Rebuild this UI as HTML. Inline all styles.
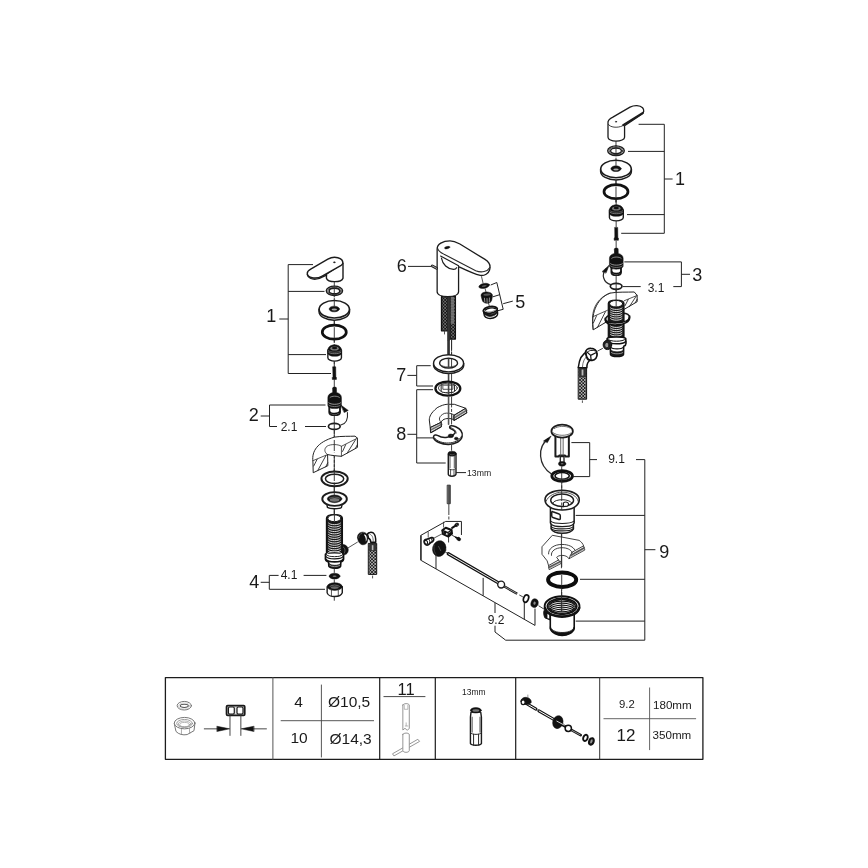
<!DOCTYPE html>
<html lang="en">
<head>
<meta charset="utf-8">
<title>Exploded parts diagram</title>
<style>
html,body{margin:0;padding:0;background:#fff;}
body{width:868px;height:868px;overflow:hidden;}
svg{display:block;will-change:transform;}
text{font-family:"Liberation Sans",sans-serif;fill:#1a1a1a;}
path,ellipse,line,rect,circle,polyline,polygon{vector-effect:non-scaling-stroke;stroke-linejoin:round;stroke-linecap:round;}
.l{fill:none;stroke:#222;stroke-width:1.2;}
.b{fill:none;stroke:#222;stroke-width:1;stroke-linecap:butt;}
.t{fill:none;stroke:#2a2a2a;stroke-width:0.8;}
.h{fill:none;stroke:#333;stroke-width:0.7;}
.w{fill:#fff;stroke:#1c1c1c;stroke-width:1.4;}
.wt{fill:#fff;stroke:#222;stroke-width:1;}
.k{fill:#111;stroke:#111;stroke-width:0.5;}
.g{fill:#888;stroke:#222;stroke-width:0.7;}
.o{fill:none;stroke:#111;stroke-width:2;}
.ax{fill:none;stroke:#2a2a2a;stroke-width:0.9;stroke-dasharray:11 1.5 3 1.5;stroke-linecap:butt;}
</style>
</head>
<body>
<svg width="868" height="868" viewBox="0 0 868 868">
<rect x="0" y="0" width="868" height="868" fill="#fff"/>
<!-- 00_defs.svg -->
<defs>
  <pattern id="br" width="3.2" height="3.2" patternUnits="userSpaceOnUse">
    <rect width="3.2" height="3.2" fill="#151515"/>
    <circle cx="0.8" cy="0.8" r="0.72" fill="#fff"/>
    <circle cx="2.4" cy="2.4" r="0.72" fill="#fff"/>
  </pattern>
  <pattern id="st" width="4" height="1.6" patternUnits="userSpaceOnUse">
    <rect width="4" height="1.6" fill="#222"/>
    <rect y="0.5" width="4" height="0.7" fill="#ccc"/>
  </pattern>
  <pattern id="br2" width="3.2" height="3.2" patternUnits="userSpaceOnUse" x="441.9" y="296">
    <rect width="3.2" height="3.2" fill="#151515"/>
    <circle cx="1.6" cy="0.8" r="0.6" fill="#eee"/>
    <circle cx="3.2" cy="2.4" r="0.6" fill="#eee"/>
    <circle cx="0" cy="2.4" r="0.6" fill="#eee"/>
  </pattern>
</defs>

<!-- 05_hoses.svg -->
<!-- braided hoses (real coords) -->
<g>
  <!-- left column hose -->
  <rect x="368.7" y="543.4" width="8" height="31" fill="url(#br)" stroke="#111" stroke-width="1"/>
  <rect x="369.2" y="543.6" width="7" height="7.6" fill="#333"/>
  <rect x="371.8" y="545.2" width="1.6" height="5" fill="#bbb"/>
  <line class="t" x1="372.6" y1="576" x2="372.6" y2="578"/>
  <!-- right column hose -->
  <rect x="578.6" y="367.2" width="8" height="32" fill="url(#br)" stroke="#111" stroke-width="1"/>
  <rect x="579.1" y="367.4" width="7" height="9.6" fill="#333"/>
  <rect x="581.6" y="369.5" width="1.8" height="6" fill="#bbb"/>
  <line class="t" x1="582.4" y1="400.8" x2="582.4" y2="402.5"/>
  <!-- center hoses -->
  <rect x="441.5" y="296.5" width="6" height="34.3" fill="url(#br2)" stroke="#111" stroke-width="1.3"/>
  <rect x="450" y="296.5" width="5.4" height="42.6" fill="url(#br2)" stroke="#111" stroke-width="1.3"/>
  <rect x="450.8" y="297" width="3.4" height="27" fill="url(#st)"/>
  <rect x="447.4" y="296.5" width="2.6" height="44" fill="#2a2a2a"/>
  <line class="t" x1="444.5" y1="331.5" x2="444.5" y2="334"/>
</g>

<!-- 10_left_top.svg -->
<g transform="translate(270,250) scale(0.142857)">
  <!-- axis -->
  <line class="ax" x1="450" y1="215" x2="450" y2="868"/>
  <!-- handle -->
  <g transform="translate(210,0) scale(0.5)">
    <path class="w" d="M370 340 L370 395 C380 425 430 443 485 443 C540 443 592 425 602 395 L602 185 Z"/>
    <path class="w" d="M102 345 C112 388 165 412 220 408 C265 404 300 388 340 366 L372 350 L360 320 Z"/>
    <path class="w" d="M102 330 C98 300 120 285 150 268 L390 128 C430 105 480 95 530 108 C575 120 602 150 600 185 C598 200 585 210 570 220 L310 365 C270 388 220 398 170 388 C130 380 105 360 102 330 Z"/>
    <ellipse class="k" cx="480" cy="172" rx="12" ry="8"/>
  </g>
  <!-- washer -->
  <ellipse class="w" cx="451" cy="286" rx="57" ry="33"/>
  <ellipse class="t" cx="451" cy="287" rx="47" ry="26"/>
  <ellipse class="w" cx="451" cy="287" rx="37" ry="19"/>
  <line class="ax" x1="450" y1="255" x2="450" y2="330"/>
  <!-- cap disc -->
  <path class="w" d="M343 415 L343 430 C343 465 392 492 450 492 C508 492 557 465 557 430 L557 415 Z"/>
  <ellipse class="w" cx="450" cy="415" rx="106" ry="61" style="stroke-width:1.6"/>
  <ellipse class="k" cx="450" cy="413" rx="36" ry="20"/>
  <ellipse cx="450" cy="417" rx="19" ry="7" fill="#aaa"/>
  <line class="ax" x1="450" y1="350" x2="450" y2="395"/>
  <line class="ax" x1="450" y1="492" x2="450" y2="530"/>
  <!-- o-ring -->
  <ellipse cx="450" cy="575" rx="84" ry="49" fill="#fff" stroke="#111" stroke-width="2.7"/>
  <line class="ax" x1="450" y1="540" x2="450" y2="650"/>
  <!-- nut -->
  <path class="w" d="M405 700 L405 755 C405 768 428 778 452 778 C478 778 500 768 500 755 L500 700 Z"/>
  <path class="k" d="M405 700 C405 680 425 664 452 664 C480 664 500 680 500 700 L500 722 C500 736 478 744 452 744 C428 744 405 736 405 722 Z"/>
  <ellipse cx="452" cy="690" rx="30" ry="14" fill="#777"/>
  <ellipse cx="452" cy="686" rx="18" ry="9" fill="#111"/>
  <path d="M410 716 C420 730 485 730 496 716" fill="none" stroke="#bbb" stroke-width="0.6"/>
  <path d="M408 704 C420 720 485 720 498 704" fill="none" stroke="#999" stroke-width="0.5"/>
  <line class="ax" x1="450" y1="778" x2="450" y2="815"/>
</g>
<!-- bracket 1 -->
<path class="b" d="M313 264.6 H288.2 V373.5 H331 M288.2 291.4 H324.5 M288.2 354.6 H326 M279.3 319 H288.2"/>
<text x="266.2" y="322.0" font-size="18">1</text>

<!-- 11_left_mid.svg -->
<g transform="translate(270,360) scale(0.142857)">
  <line class="ax" x1="450" y1="135" x2="450" y2="868"/>
  <!-- screw -->
  <path class="k" d="M440 48 L460 48 L461 118 L465 122 L465 136 L436 136 L436 122 L440 118 Z"/>
  <!-- cartridge -->
  <path class="w" style="stroke-width:1.9" d="M415 320 L415 365 C415 378 432 386 452 386 C472 386 490 378 490 365 L490 320 Z"/>
  <path d="M418 362 C425 378 480 378 488 362" fill="none" stroke="#111" stroke-width="1.6"/>
  <path class="k" d="M438 195 C438 188 465 188 465 195 L466 228 C485 232 500 245 500 262 L500 318 C500 332 478 340 452 340 C428 340 405 332 405 318 L405 262 C405 245 420 232 438 228 Z"/>
  <path d="M420 262 C430 250 475 250 486 262" fill="none" stroke="#bbb" stroke-width="0.7"/>
  <path d="M412 300 C425 314 480 314 494 300" fill="none" stroke="#ccc" stroke-width="0.7"/>
  <path d="M412 316 C425 330 480 330 494 316" fill="none" stroke="#aaa" stroke-width="0.6"/>
  <!-- lever pin + arrow -->
  <path class="k" d="M494 314 L548 353 L521 367 Z"/>
  <path class="t" style="stroke-width:1.1" d="M542 368 C548 420 525 448 496 455"/>
  <!-- o-ring 2.1 -->
  <ellipse class="w" cx="450" cy="465" rx="41" ry="21" style="stroke-width:1.7"/>
  <line class="ax" x1="450" y1="440" x2="450" y2="560"/>
</g>
<path class="b" d="M325.5 405 H269.5 V426.5 H277 M305 426.5 H326 M260.7 416 H269.5"/>
<text x="248.8" y="421.0" font-size="18">2</text>
<text x="280.7" y="431.0" font-size="12">2.1</text>

<!-- 12_left_sink.svg -->
<g transform="translate(270,360) scale(0.142857)">
  <!-- sink section -->
  <path class="wt" d="M300 705 C292 640 330 575 450 540 C500 532 560 535 595 533 L612 547 L612 612 L500 674 C470 672 430 668 403 662 L405 740 L305 788 Z"/>
  <path class="t" d="M403 662 C380 648 376 620 400 603 C425 588 475 588 500 604 L612 547"/>
  <path class="t" d="M300 705 L403 662 M500 604 L500 674"/>
  <path class="t" style="stroke-width:0.9" d="M306 742 L330 695 M335 772 L392 668 M390 748 L404 720"/>
  <path class="t" style="stroke-width:0.9" d="M508 640 L530 592 M540 652 L600 556 M598 618 L612 592"/>
  <line class="ax" x1="450" y1="560" x2="450" y2="650"/>
  <line class="ax" x1="450" y1="672" x2="450" y2="868"/>
</g>

<!-- 13_left_low.svg -->
<g transform="translate(270,470) scale(0.142857)">
  <line class="ax" x1="450" y1="0" x2="450" y2="330"/>
  <!-- flat ring -->
  <ellipse class="w" cx="452" cy="62" rx="92" ry="52" style="stroke-width:2"/>
  <ellipse class="w" cx="452" cy="62" rx="64" ry="33" style="stroke-width:1.5"/>
  <line class="ax" x1="450" y1="0" x2="450" y2="130"/>
  <!-- flange nut -->
  <path class="w" d="M398 240 L402 262 C420 274 485 274 500 262 L505 240 Z"/>
  <ellipse class="w" cx="452" cy="203" rx="86" ry="48" style="stroke-width:1.9"/>
  <ellipse class="k" cx="452" cy="202" rx="51" ry="27"/>
  <ellipse cx="452" cy="209" rx="34" ry="13" fill="#777"/>
  <path d="M415 198 C430 186 475 186 490 198" fill="none" stroke="#999" stroke-width="0.6"/>
  <line class="ax" x1="450" y1="130" x2="450" y2="180"/>
  <line class="ax" x1="450" y1="272" x2="450" y2="320"/>
  <!-- threaded tube -->
  <path class="k" d="M505 520 C530 520 550 540 548 562 C546 586 528 598 508 594 Z"/>
  <path d="M514 540 C527 548 530 570 518 584" fill="none" stroke="#777" stroke-width="0.7"/>
  <path d="M395 338 L395 582 L507 582 L507 338 C507 322 482 312 451 312 C420 312 395 322 395 338 Z" fill="#1a1a1a" stroke="#111" stroke-width="1.2"/>
  <g fill="none" stroke="#fff" stroke-width="0.85">
    <path d="M410 372 C424 387 478 387 493 372"/>
    <path d="M410 388 C424 403 478 403 493 388"/>
    <path d="M410 404 C424 419 478 419 493 404"/>
    <path d="M410 420 C424 435 478 435 493 420"/>
    <path d="M410 436 C424 451 478 451 493 436"/>
    <path d="M410 452 C424 467 478 467 493 452"/>
    <path d="M410 468 C424 483 478 483 493 468"/>
    <path d="M410 484 C424 499 478 499 493 484"/>
    <path d="M410 500 C424 515 478 515 493 500"/>
    <path d="M410 516 C424 531 478 531 493 516"/>
    <path d="M410 532 C424 547 478 547 493 532"/>
    <path d="M410 548 C424 563 478 563 493 548"/>
    <path d="M410 564 C424 579 478 579 493 564"/>
  </g>
  <ellipse cx="451" cy="338" rx="46" ry="24" fill="#fff" stroke="#111" stroke-width="1"/>
  <path d="M388 590 L388 622 C388 634 400 642 410 646 L412 674 C420 692 485 692 494 674 L496 646 C505 642 515 634 515 622 L515 590 C505 575 398 575 388 590 Z" fill="#fff" stroke="#111" stroke-width="1.6"/>
  <path d="M392 592 C410 612 495 612 511 592" fill="none" stroke="#111" stroke-width="1"/>
  <path d="M390 604 C405 628 500 628 513 604" fill="none" stroke="#111" stroke-width="1.2"/>
  <path d="M390 624 C405 650 500 650 513 624" fill="none" stroke="#111" stroke-width="1.8"/>
  <path d="M412 654 C425 672 482 672 494 654 L494 672 C482 690 425 690 413 672 Z" fill="#1a1a1a" stroke="#111" stroke-width="0.8"/>
  <path d="M418 668 C430 680 476 680 488 668" fill="none" stroke="#ddd" stroke-width="0.6"/>
  <ellipse cx="451" cy="586" rx="50" ry="14" fill="none" stroke="#fff" stroke-width="0.7"/>
  <line x1="451" y1="290" x2="451" y2="356" stroke="#2a2a2a" stroke-width="0.9"/>
  <line class="ax" x1="450" y1="690" x2="450" y2="720"/>
  <!-- connector line -->
  <line class="t" x1="545" y1="546" x2="612" y2="505"/>
  <!-- hose elbow -->
  <g transform="translate(490,350) scale(0.5)">
    <path d="M385 195 C400 172 440 165 470 185 C495 205 502 250 500 310 L430 312 C430 285 425 265 400 255 Z" fill="#fff" stroke="#111" stroke-width="1.5"/>
    <path d="M420 200 C450 210 465 240 465 300" fill="none" stroke="#333" stroke-width="0.7"/>
    <path class="k" d="M245 250 C240 205 270 172 310 170 C340 168 362 180 378 200 C395 230 395 290 375 320 C360 345 325 355 295 340 C265 325 250 290 245 250 Z"/>
    <path d="M335 205 C350 195 372 215 375 245 C378 270 370 295 360 300 C365 270 360 235 335 205 Z" fill="#fff"/>
    <path d="M262 250 C262 215 280 192 305 188" fill="none" stroke="#777" stroke-width="0.6"/>
  </g>
  <!-- ring 4.1 -->
  <ellipse class="k" cx="452" cy="743" rx="38" ry="20"/>
  <ellipse cx="452" cy="744" rx="14" ry="5" fill="#777"/>
  <line class="ax" x1="450" y1="765" x2="450" y2="790"/>
  <!-- nut 4 -->
  <path class="w" d="M400 818 L400 860 C405 876 430 886 452 886 C475 886 500 876 506 860 L506 818 Z" style="stroke-width:1.4"/>
  <path class="t" d="M430 842 L430 882 M478 842 L478 882"/>
  <ellipse class="k" cx="453" cy="816" rx="53" ry="27"/>
  <ellipse cx="453" cy="823" rx="28" ry="10" fill="#666"/>
  <path d="M420 814 C435 802 470 802 486 814" fill="none" stroke="#aaa" stroke-width="0.6"/>
  <line class="ax" x1="450" y1="888" x2="450" y2="915"/>
</g>
<path class="b" d="M278.6 575.4 H269.3 V589.3 H325 M303.6 575.4 H326.4 M260.7 582.3 H269.3"/>
<text x="249.2" y="587.6" font-size="18">4</text>
<text x="280.7" y="578.9" font-size="12">4.1</text>

<!-- 20_faucet.svg -->
<g transform="translate(390,230) scale(0.142857)">
  <!-- thin tube -->
  <path d="M410 470 L410 868" fill="none" stroke="#333" stroke-width="2.2" style="stroke-linecap:butt"/>
  <line class="ax" x1="431" y1="762" x2="431" y2="868"/>
  <!-- faucet body -->
  <path class="w" style="stroke-width:1.3" d="M330 135 C328 98 370 76 420 76 C452 76 470 88 492 100 L665 206 C695 224 706 250 697 280 C690 304 662 322 632 318 C600 310 520 275 480 256 L480 432 C480 452 450 466 405 466 C360 466 330 452 330 432 Z"/>
  <path class="t" style="stroke-width:1.1" d="M333 128 C338 150 360 160 382 172 L600 285 C640 302 682 292 699 262"/>
  <path d="M360 196 C368 242 402 272 445 276 C456 276 463 271 466 264" fill="none" stroke="#1c1c1c" stroke-width="1.2"/>
  <path d="M354 182 L480 250" fill="none" stroke="#1c1c1c" stroke-width="1.1"/>
  
  <ellipse class="k" cx="400" cy="123" rx="19" ry="8" transform="rotate(-12 400 123)"/>
  <!-- pin 6 -->
  <path d="M296 252 L326 268" fill="none" stroke="#222" stroke-width="2.8"/>
  <path d="M297 252 L326 268" fill="none" stroke="#bbb" stroke-width="0.9"/>
  <!-- aerator parts -->
  <g transform="translate(630,280) scale(0.5)">
    <line class="t" x1="22" y1="95" x2="42" y2="180"/>
    <line class="t" x1="72" y1="262" x2="84" y2="308"/>
    <line class="t" x1="120" y1="468" x2="130" y2="505"/>
    <ellipse class="k" cx="58" cy="222" rx="76" ry="34" transform="rotate(-12 58 222)"/>
    <ellipse cx="60" cy="224" rx="36" ry="9" fill="#666" transform="rotate(-12 60 224)"/>
    <path class="k" d="M15 360 C10 325 50 305 100 308 C150 312 180 335 175 365 L165 420 C160 450 130 468 95 466 C60 464 35 448 30 420 Z"/>
    <ellipse cx="98" cy="345" rx="52" ry="15" fill="#555" transform="rotate(-6 98 345)"/>
    <path d="M62 395 L68 448 M98 400 L100 456 M132 392 L130 446" stroke="#ccc" stroke-width="0.7" fill="none"/>
    <path d="M48 575 L62 640 C75 672 130 688 185 672 C225 660 248 635 246 608 L242 555 Z" fill="#fff" stroke="#111" stroke-width="1.5"/>
    <path d="M48 572 C60 610 110 628 165 618 C215 608 245 580 242 552 L244 585 C240 615 205 640 160 648 C105 655 62 635 52 600 Z" fill="#111" stroke="#111" stroke-width="0.8"/>
    <ellipse cx="145" cy="558" rx="98" ry="46" fill="#fff" stroke="#111" stroke-width="1.8" transform="rotate(-9 145 558)"/>
    <path d="M75 560 C95 535 175 520 215 540" fill="none" stroke="#111" stroke-width="1.4"/>
    <path d="M80 578 C110 598 180 590 212 560" fill="none" stroke="#555" stroke-width="0.7"/>
  </g>
</g>
<!-- bracket 5 -->
<path class="b" d="M490.7 285 L496.8 282.5 L503.2 309.3 L497.9 310.7 M492.9 296.8 L500 294.6 M503.2 303.7 L512.8 301.1"/>
<text x="515.2" y="307.9" font-size="18">5</text>
<!-- label 6 -->
<path class="b" d="M408 266.4 H431"/>
<text x="396.8" y="272.0" font-size="18">6</text>

<!-- 21_center_mid.svg -->
<g transform="translate(390,340) scale(0.142857)">
  <!-- tube continuing -->
  <path d="M410 0 L410 110" fill="none" stroke="#333" stroke-width="2.2" style="stroke-linecap:butt"/>
  <line class="ax" x1="431" y1="0" x2="431" y2="112"/>
  <!-- ring 7a -->
  <path class="w" style="stroke-width:1.4" d="M305 165 L305 180 C310 212 360 235 410 235 C462 235 512 212 516 180 L516 165 Z"/>
  <ellipse class="w" style="stroke-width:1.4" cx="410" cy="163" rx="105" ry="60"/>
  <ellipse class="w" style="stroke-width:1.4" cx="410" cy="162" rx="63" ry="34"/>
  <path d="M350 170 C365 195 455 195 470 170" fill="none" stroke="#444" stroke-width="0.7"/>
  <path d="M410 130 L410 196" fill="none" stroke="#444" stroke-width="1.6" style="stroke-linecap:butt"/>
  <line class="ax" x1="431" y1="130" x2="431" y2="196"/>
  <path d="M410 236 L410 295" fill="none" stroke="#444" stroke-width="1.6" style="stroke-linecap:butt"/>
  <line class="ax" x1="431" y1="236" x2="431" y2="295"/>
  <!-- ring 7b -->
  <ellipse cx="405" cy="340" rx="87" ry="49" fill="#fff" stroke="#111" stroke-width="2.3"/>
  <ellipse class="t" cx="405" cy="336" rx="66" ry="34" style="stroke-width:0.9"/>
  <path class="wt" style="stroke-width:1" d="M358 318 L358 360 C370 372 440 372 452 360 L452 318 Z"/>
  <path class="t" d="M370 322 L370 345 L440 345 L440 322"/>
  <path d="M410 300 L410 384" fill="none" stroke="#444" stroke-width="1.6" style="stroke-linecap:butt"/>
  <line class="ax" x1="431" y1="300" x2="431" y2="384"/>
  <!-- sink piece (center) -->
  <g transform="translate(210,385) scale(0.5)">
    <path class="wt" d="M152 525 L130 350 C132 300 150 255 240 178 C290 150 340 132 380 130 L480 130 L640 186 L655 250 L480 355 L465 345 C440 325 360 320 320 350 C305 362 298 372 295 382 L300 440 Z"/>
    <path class="t" style="stroke-width:0.9" d="M295 382 C255 345 262 295 340 258 C380 248 440 255 480 282 L640 186 M480 282 L480 355 M150 452 L295 382 M465 345 L465 290"/>
    <path d="M488 312 L646 218" fill="none" stroke="#666" stroke-width="2.6"/>
    <path d="M486 300 L642 205 M490 330 L650 234" fill="none" stroke="#fff" stroke-width="0.5"/>
    <path d="M156 486 L296 412" fill="none" stroke="#666" stroke-width="2.6"/>
    <path d="M154 474 L294 400 M158 502 L298 428" fill="none" stroke="#fff" stroke-width="0.5"/>
    <path d="M480 282 L640 186 L655 250 L480 355 Z M150 452 L295 382 L300 440 L152 525 Z" fill="none" stroke="#222" stroke-width="1"/>
    <line x1="400" y1="20" x2="400" y2="410" stroke="#555" stroke-width="1.6"/>
    <line class="ax" x1="442" y1="20" x2="442" y2="430"/>
    <!-- clip -->
    <path class="w" style="stroke-width:1.5" d="M190 582 C195 560 225 552 245 565 C290 592 340 600 380 592 C420 585 470 560 490 530 C500 510 470 490 440 478 C415 468 405 450 425 432 C440 425 470 432 500 445 C560 470 600 520 590 580 C580 640 500 690 400 692 C300 694 210 650 190 600 Z"/>
    <path class="t" style="stroke-width:1" d="M200 600 C240 650 320 675 400 672 C480 670 560 630 580 580"/>
    <path class="t" style="stroke-width:1" d="M425 455 C470 470 510 500 505 535"/>
    <ellipse class="k" cx="432" cy="572" rx="38" ry="26"/>
    <ellipse cx="436" cy="568" rx="10" ry="5" fill="#555"/>
    <ellipse class="k" cx="508" cy="610" rx="26" ry="20"/>
    
    <line class="ax" x1="442" y1="700" x2="442" y2="780"/>
  </g>
</g>
<path class="b" d="M430.7 365.7 H416.7 V386 H433 M407.4 375.4 H416.7"/>
<text x="396.2" y="381.0" font-size="18">7</text>
<path class="b" d="M433 389.7 H416.7 V463 H445.7 M416.7 437.9 H433 M407.4 434.3 H416.7"/>
<text x="396.2" y="440.2" font-size="18">8</text>

<!-- 22_center_low.svg -->
<g transform="translate(390,440) scale(0.142857)">
  
  <!-- 13mm nut -->
  <path class="w" style="stroke-width:1.4" d="M408 100 L408 240 C412 258 455 258 462 240 L462 100 Z"/>
  <path class="t" d="M410 200 C420 212 450 212 460 200 M424 208 L424 252 M448 208 L448 252"/>
  <path class="t" d="M420 110 L420 195 M450 110 L450 195"/>
  <ellipse class="k" cx="435" cy="96" rx="29" ry="17"/>
  <path d="M420 100 C428 106 442 106 450 100" fill="none" stroke="#888" stroke-width="0.5"/>
  <!-- rod -->
  <rect x="403" y="316" width="19" height="130" fill="#444" stroke="#222" stroke-width="0.8"/>
  <line x1="412.5" y1="320" x2="412.5" y2="442" stroke="#999" stroke-width="0.4"/>
  <line class="ax" x1="412" y1="448" x2="412" y2="565"/>
  <!-- box -->
  <path class="b" d="M500 665 L500 570 L390 570 L215 668 L215 842"/>
  
  <g transform="translate(175,525) scale(0.5)">
    <line class="t" x1="400" y1="100" x2="400" y2="170"/>
    <line class="t" x1="185" y1="240" x2="185" y2="310"/>
    <line class="ax" x1="470" y1="300" x2="470" y2="385"/>
    <!-- bolt top -->
    <path d="M520 180 L580 142" fill="none" stroke="#111" stroke-width="2"/>
    <ellipse class="k" cx="585" cy="137" rx="28" ry="24" transform="rotate(-30 585 137)"/>
    <path d="M570 120 L600 150" stroke="#888" stroke-width="0.6" fill="none"/>
    <!-- cube nut -->
    <path d="M382 215 L430 178 L512 210 L518 262 L468 302 L392 268 Z" fill="#fff" stroke="#111" stroke-width="2"/>
    <path d="M382 215 L462 246 L512 210 M462 246 L468 302" fill="none" stroke="#111" stroke-width="1.3"/>
    <ellipse class="k" cx="420" cy="246" rx="18" ry="22"/>
    <path class="k" d="M470 258 L505 236 L510 262 L476 288 Z"/>
    <!-- bolt 2 -->
    <line class="ax" x1="520" y1="285" x2="562" y2="306"/>
    <path d="M570 312 L600 328" fill="none" stroke="#111" stroke-width="1.8"/>
    <ellipse class="k" cx="612" cy="336" rx="28" ry="24" transform="rotate(30 612 336)"/>
    <!-- small cylinder -->
    <path d="M128 380 C122 355 140 338 165 340 L232 316 C255 312 268 335 258 355 C252 370 240 378 225 384 L185 418 C160 432 134 410 128 380 Z" fill="#fff" stroke="#111" stroke-width="1.7"/>
    <ellipse cx="155" cy="382" rx="20" ry="28" fill="#fff" stroke="#111" stroke-width="1.1" transform="rotate(-20 155 382)"/>
    <path d="M195 340 C210 360 212 385 200 405 M225 325 C240 345 242 365 235 380" fill="none" stroke="#111" stroke-width="1"/>
    <line class="t" x1="272" y1="320" x2="375" y2="266"/>
    <!-- gear -->
    <ellipse class="k" cx="340" cy="470" rx="94" ry="112" transform="rotate(14 340 470)"/>
    <path d="M330 440 L360 500" fill="none" stroke="#777" stroke-width="0.6"/>
    <path d="M268 420 C262 450 264 500 285 540" fill="none" stroke="#555" stroke-width="0.6"/>
    <line class="t" x1="420" y1="515" x2="447" y2="530"/>
  </g>
</g>
<path class="b" d="M456 472.6 H466"/>
<text x="467" y="475.9" font-size="8.7">13mm</text>

<!-- 30_right_top.svg -->
<g transform="translate(570,90) scale(0.142857)">
  <line class="ax" x1="322" y1="355" x2="322" y2="800"/>
  <!-- handle -->
  <path class="w" style="stroke-width:1.3" d="M266 232 C262 212 280 200 300 190 L420 120 C450 104 490 106 508 124 C522 140 518 160 500 172 L382 250 L382 330 C382 346 355 358 322 358 C292 358 266 346 266 330 Z"/>
  <path class="t" style="stroke-width:0.9" d="M268 240 C280 262 330 268 365 252"/>
  <path d="M372 246 L510 160" fill="none" stroke="#1c1c1c" stroke-width="2"/>
  <ellipse class="k" cx="322" cy="222" rx="4.5" ry="3.5"/>
  <!-- washer -->
  <ellipse class="w" cx="322" cy="425" rx="58" ry="34"/>
  <ellipse class="t" cx="322" cy="426" rx="48" ry="27"/>
  <ellipse class="w" cx="322" cy="426" rx="38" ry="20"/>
  <line class="ax" x1="322" y1="385" x2="322" y2="460"/>
  <!-- disc -->
  <path class="w" d="M214 553 L214 568 C214 603 264 630 322 630 C380 630 430 603 430 568 L430 553 Z"/>
  <ellipse class="w" cx="322" cy="553" rx="107" ry="61" style="stroke-width:1.6"/>
  <ellipse class="k" cx="322" cy="551" rx="36" ry="20"/>
  <ellipse cx="322" cy="556" rx="19" ry="7" fill="#aaa"/>
  <line class="ax" x1="322" y1="488" x2="322" y2="530"/>
  <line class="ax" x1="322" y1="632" x2="322" y2="665"/>
  <!-- o-ring -->
  <ellipse cx="322" cy="712" rx="84" ry="49" fill="#fff" stroke="#111" stroke-width="2.7"/>
  <line class="ax" x1="322" y1="675" x2="322" y2="790"/>
</g>
<g transform="translate(590,200) scale(0.142857)">
  <line class="ax" x1="183" y1="0" x2="183" y2="40"/>
  <line class="ax" x1="183" y1="145" x2="183" y2="190"/>
  <line class="ax" x1="183" y1="285" x2="183" y2="340"/>
  <line class="ax" x1="183" y1="525" x2="183" y2="720"/>
  <!-- nut -->
  <path class="w" d="M136 70 L136 122 C136 136 158 146 184 146 C210 146 233 136 233 122 L233 70 Z"/>
  <path class="k" d="M136 70 C136 50 156 34 184 34 C212 34 233 50 233 70 L233 92 C233 106 210 114 184 114 C158 114 136 106 136 92 Z"/>
  <ellipse cx="184" cy="60" rx="30" ry="14" fill="#777"/>
  <ellipse cx="184" cy="56" rx="18" ry="9" fill="#111"/>
  <path d="M141 86 C152 100 216 100 228 86" fill="none" stroke="#bbb" stroke-width="0.6"/>
  <path d="M139 74 C152 90 216 90 230 74" fill="none" stroke="#999" stroke-width="0.5"/>
  <!-- screw -->
  <path class="k" d="M174 192 L194 192 L195 262 L199 266 L199 282 L169 282 L169 266 L173 262 Z"/>
  <!-- cartridge -->
  <path class="w" style="stroke-width:1.9" d="M150 465 L150 505 C150 518 166 526 184 526 C202 526 217 518 217 505 L217 465 Z"/>
  <path d="M153 502 C160 518 208 518 215 502" fill="none" stroke="#111" stroke-width="1.6"/>
  <path class="k" d="M170 342 C170 335 197 335 197 342 L198 374 C217 378 232 391 232 408 L232 462 C232 476 210 484 184 484 C160 484 136 476 136 462 L136 408 C136 391 152 378 170 374 Z"/>
  <path d="M152 408 C162 396 207 396 218 408" fill="none" stroke="#bbb" stroke-width="0.7"/>
  <path d="M144 446 C157 460 212 460 226 446" fill="none" stroke="#ccc" stroke-width="0.7"/>
  <path d="M144 462 C157 476 212 476 226 462" fill="none" stroke="#aaa" stroke-width="0.6"/>
  <!-- arrow -->
  <path class="t" style="stroke-width:1.2" d="M146 592 C92 578 78 520 112 482"/>
  <path class="k" d="M86 500 L134 456 L113 510 Z"/>
  <!-- o-ring 3.1 -->
  <ellipse class="w" cx="183" cy="604" rx="41" ry="21" style="stroke-width:1.7"/>
  <line class="ax" x1="183" y1="580" x2="183" y2="700"/>
</g>
<!-- bracket 1 right -->
<path class="b" d="M638.6 124.3 H664.3 V233.3 H621.2 M628 151.4 H664.3 M627 214.6 H664.3 M664.3 179 H672.6"/>
<text x="675.0" y="185.3" font-size="18">1</text>
<!-- bracket 3 -->
<path class="b" d="M624.3 261.9 H681.4 V286.6 H673.3 M622.9 286.6 H640.7 M681.4 274.3 H690"/>
<text x="692.2" y="280.7" font-size="18">3</text>
<text x="647.7" y="291.7" font-size="12">3.1</text>

<!-- 31_right_low.svg -->
<g transform="translate(560,280) scale(0.142857)">
  <!-- sink piece right -->
  <path class="wt" style="stroke-width:1" d="M232 346 C215 250 250 130 350 92 C400 82 470 86 520 84 L540 108 L540 152 L450 205 L330 290 Z"/>
  <path class="t" d="M232 346 L228 258 L332 212 M450 145 L540 108 M228 258 C230 190 270 120 350 92"/>
  <path class="t" style="stroke-width:0.9" d="M234 300 L256 250 M262 332 L318 222 M316 300 L330 270"/>
  <path class="t" style="stroke-width:0.9" d="M455 180 L478 136 M486 186 L534 112 M526 160 L540 135"/>
  <!-- flange ring behind tube bottom -->
  <path class="w" style="stroke-width:1.5" d="M318 282 C318 258 340 245 365 240 L440 232 C470 232 488 246 486 264 C484 290 445 308 400 310 C355 312 318 300 318 282 Z"/>
  <!-- tube -->
  <path d="M338 165 L338 402 L448 402 L448 165 C448 150 424 140 393 140 C362 140 338 150 338 165 Z" fill="#1a1a1a" stroke="#111" stroke-width="1.2"/>
  <g fill="none" stroke="#fff" stroke-width="0.85">
    <path d="M354 196 C368 210 420 210 434 196"/>
    <path d="M354 211 C368 225 420 225 434 211"/>
    <path d="M354 226 C368 240 420 240 434 226"/>
    <path d="M354 241 C368 255 420 255 434 241"/>
    <path d="M354 256 C368 270 420 270 434 256"/>
    <path d="M354 271 C368 285 420 285 434 271"/>
    <path d="M354 322 C368 336 420 336 434 322"/>
    <path d="M354 337 C368 351 420 351 434 337"/>
    <path d="M354 352 C368 366 420 366 434 352"/>
    <path d="M354 367 C368 381 420 381 434 367"/>
    <path d="M354 382 C368 396 420 396 434 382"/>
  </g>
  <ellipse cx="393" cy="166" rx="46" ry="23" fill="#fff" stroke="#111" stroke-width="1"/>
  <line x1="393" y1="60" x2="393" y2="186" stroke="#2a2a2a" stroke-width="0.9"/>
  <!-- flange front -->
  <path d="M316 278 C318 306 358 316 400 314 C450 312 488 292 488 262 L488 252 C486 280 450 298 400 300 C358 302 320 294 316 268 Z" fill="#fff" stroke="#111" stroke-width="1.5"/>
  <!-- lower body -->
  <path d="M330 410 L330 442 C335 454 345 460 352 464 L354 522 C362 540 436 540 444 522 L446 464 C455 460 462 452 462 442 L460 410 C450 396 340 396 330 410 Z" fill="#fff" stroke="#111" stroke-width="1.6"/>
  <path d="M333 414 C350 434 440 434 458 414" fill="none" stroke="#111" stroke-width="1"/>
  <path d="M333 430 C350 452 440 452 460 430" fill="none" stroke="#111" stroke-width="1.4"/>
  <path d="M354 470 C368 486 430 486 444 470" fill="none" stroke="#111" stroke-width="1.2"/>
  <path d="M355 490 C368 508 430 508 445 490 L445 520 C430 538 368 538 355 520 Z" fill="#1a1a1a" stroke="#111" stroke-width="0.8"/>
  <path d="M360 508 C372 520 426 520 440 508" fill="none" stroke="#ddd" stroke-width="0.6"/>
  <!-- side outlet -->
  <ellipse cx="332" cy="454" rx="30" ry="33" fill="#222" stroke="#111" stroke-width="1"/>
  <ellipse cx="328" cy="456" rx="15" ry="19" fill="#999" stroke="#111" stroke-width="0.8"/>
  <line class="ax" x1="300" y1="478" x2="262" y2="498"/>
  <!-- hose elbow -->
  <g transform="translate(42,420) scale(0.5)">
    <path d="M300 165 C230 190 185 270 172 385 L292 388 C290 330 310 295 350 275 Z" fill="#fff" stroke="#111" stroke-width="1.5"/>
    <path d="M310 215 C260 245 235 300 230 380" fill="none" stroke="#333" stroke-width="0.7"/>
    <path d="M272 175 C275 140 310 115 350 118 C395 120 432 150 435 195 C438 240 410 280 365 285 C330 288 300 270 290 240 Z" fill="#fff" stroke="#111" stroke-width="1.8"/>
    <path d="M290 165 L345 215 L425 175 M345 215 L352 282" fill="none" stroke="#111" stroke-width="1.2"/>
    <path d="M280 200 C300 150 350 135 400 150" fill="none" stroke="#111" stroke-width="1"/>
  </g>
</g>

<!-- 40_drain_top.svg -->
<g transform="translate(530,410) scale(0.142857)">
  <line class="ax" x1="222" y1="395" x2="222" y2="868"/>
  <!-- plug stem -->
  <path class="w" style="stroke-width:2" d="M178 180 L178 326 L200 326 L206 318 L244 318 L250 326 L272 326 L272 180 Z"/>
  <path class="t" style="stroke-width:0.9;stroke:#555" d="M215 190 L215 316 M232 190 L232 316"/>
  <path class="w" style="stroke-width:1.3" d="M212 326 L212 368 L238 368 L238 326 Z"/>
  <ellipse class="k" cx="225" cy="377" rx="26" ry="17"/>
  <ellipse cx="225" cy="376" rx="10" ry="4" fill="#888"/>
  <!-- plug cap -->
  <ellipse class="w" style="stroke-width:1.8" cx="225" cy="148" rx="75" ry="46"/>
  <path class="h" d="M170 130 C190 112 250 108 280 126"/>
  <path class="h" d="M165 160 C185 182 260 184 285 162"/>
  <!-- arrow -->
  <path class="t" style="stroke-width:1.3" d="M148 446 C58 385 48 262 128 200"/>
  <path class="k" d="M96 216 L148 182 L122 228 Z"/>
  <!-- seal ring -->
  <ellipse cx="225" cy="462" rx="72" ry="38" fill="#fff" stroke="#111" stroke-width="2.8"/>
  <ellipse cx="225" cy="461" rx="50" ry="24" fill="#fff" stroke="#111" stroke-width="1.6"/>
  <path d="M165 470 C185 492 265 492 285 470" fill="none" stroke="#555" stroke-width="0.7"/>
  <line class="ax" x1="222" y1="440" x2="222" y2="560"/>
  <!-- drain body -->
  <path class="w" style="stroke-width:1.5" d="M143 680 L143 790 L148 800 L148 832 C158 852 190 862 225 862 C262 862 294 852 304 832 L304 800 L309 790 L309 680 Z"/>
  <path class="w" style="stroke-width:1.6" d="M105 628 C105 590 158 562 225 562 C292 562 345 590 345 628 C345 650 330 668 312 680 C290 694 255 700 225 700 C195 700 160 694 140 680 C120 668 105 650 105 628 Z"/>
  <ellipse class="w" style="stroke-width:1.4" cx="225" cy="632" rx="80" ry="44"/>
  <path class="t" style="stroke-width:1" d="M160 650 C175 620 275 620 292 650"/>
  <path class="t" d="M112 640 C125 600 180 575 225 575 C280 575 330 600 338 640"/>
  <path class="w" style="stroke-width:1.2" d="M234 650 L234 676 L262 672 C270 668 272 656 266 650 C258 644 242 644 234 650 Z"/>
  <path class="w" style="stroke-width:1.5" d="M152 716 C152 712 156 710 160 712 L204 728 C210 730 212 734 212 740 L212 760 C212 766 208 768 202 766 L160 752 C154 750 152 746 152 740 Z"/>
  <path d="M144 778 C170 800 280 800 308 778 M148 800 C170 822 280 822 304 800 M148 816 C170 838 280 838 304 816 M149 830 C170 852 280 852 303 830" fill="none" stroke="#1c1c1c" stroke-width="1.2"/>
  <line class="ax" x1="222" y1="560" x2="222" y2="700"/>
</g>
<path class="b" d="M571.4 442.6 H589.7 V476.6 H572.9 M589.7 459.6 H597"/>
<text x="608.2" y="462.7" font-size="12">9.1</text>
<path class="b" d="M636 459.6 H644.8 V640.2 H505.7 L495 632 V625.7 M495 613 V602.9 M575.7 515.4 H644.8 M580 579.3 H644.8 M575.7 621.1 H644.8 M644.8 549.7 H655.4"/>
<text x="659.2" y="557.7" font-size="18">9</text>
<text x="487.7" y="623.8" font-size="12">9.2</text>

<!-- 41_drain_low.svg -->
<g transform="translate(530,520) scale(0.142857)">
  <line class="ax" x1="222" y1="92" x2="222" y2="330" style="stroke-dasharray:none"/>
  <!-- sink piece (drain) -->
  <g transform="translate(14,35) scale(0.5)">
    <path class="wt" style="stroke-width:0.85" d="M290 145 L660 215 C690 235 715 265 722 292 L740 350 L518 472 C500 440 460 425 420 425 C390 425 360 435 345 452 L372 490 L405 540 L240 625 L232 568 L212 502 L140 410 L140 310 Z"/>
    <path class="t" style="stroke-width:0.9" d="M232 405 C225 330 310 272 420 272 C510 272 580 305 600 350"/>
    <path class="t" style="stroke-width:0.9" d="M272 425 C262 365 330 318 420 318 C490 318 545 345 560 382"/>
    <path class="t" style="stroke-width:0.9" d="M560 382 L722 292 M232 568 L372 490 M560 382 L518 472"/>
    <path d="M542 430 L728 325" fill="none" stroke="#555" stroke-width="2.2"/>
    <path d="M540 445 L730 338" fill="none" stroke="#fff" stroke-width="0.5"/>
    <path d="M242 596 L395 516" fill="none" stroke="#555" stroke-width="2.2"/>
    <path d="M246 606 L398 528" fill="none" stroke="#fff" stroke-width="0.5"/>
    <line x1="412" y1="120" x2="412" y2="600" stroke="#2a2a2a" stroke-width="0.9"/>
  </g>
  <!-- seal ring thick -->
  <ellipse cx="225" cy="418" rx="98.5" ry="50.5" fill="#fff" stroke="#0c0c0c" stroke-width="3.9"/>
  <line class="ax" x1="222" y1="385" x2="222" y2="540"/>
  <!-- lower body -->
  <g transform="translate(42,315) scale(0.5)">
    <path d="M112 640 C105 660 108 710 125 740 L200 770 L200 660 Z" fill="#111" stroke="#111" stroke-width="1"/>
    <path d="M160 680 L160 742 L188 752 L188 690 Z" fill="#fff"/>
    <path d="M200 660 L200 890 C215 950 300 985 365 985 C440 985 520 950 535 890 L535 660 Z" fill="#fff" stroke="#111" stroke-width="1.6"/>
    <path d="M202 870 C220 925 300 945 365 945 C440 945 515 925 533 870 L533 892 C518 950 440 983 365 983 C300 983 218 950 202 892 Z" fill="#111" stroke="#111" stroke-width="0.8"/>
    <ellipse cx="365" cy="578" rx="244" ry="141" fill="#fff" stroke="#111" stroke-width="1.9"/>
    <path d="M125 600 C150 690 260 725 365 725 C470 725 580 690 606 600" fill="none" stroke="#111" stroke-width="2.4"/>
    <ellipse cx="365" cy="578" rx="206" ry="112" fill="#fff" stroke="#111" stroke-width="1.7"/>
    <clipPath id="cpd"><ellipse cx="365" cy="580" rx="186" ry="97"/></clipPath>
    <g clip-path="url(#cpd)" fill="none" stroke="#111" stroke-width="1.15">
      <path d="M170 590 C190 462 540 462 560 590 L560 560 C540 440 190 440 170 560 Z" fill="#222" stroke="none"/>
      <path d="M182 465 C245 532 485 532 548 465"/>
      <path d="M185 493 C248 560 482 560 545 493"/>
      <path d="M188 521 C251 588 479 588 542 521"/>
      <path d="M191 549 C254 616 476 616 539 549"/>
      <path d="M194 577 C257 644 473 644 536 577"/>
      <path d="M197 605 C260 672 470 672 533 605"/>
      <path d="M200 633 C263 700 467 700 530 633"/>
    </g>
    <ellipse cx="365" cy="580" rx="186" ry="97" fill="none" stroke="#111" stroke-width="1.3"/>
    <line x1="358" y1="350" x2="358" y2="650" stroke="#2a2a2a" stroke-width="0.9"/>
  </g>
  <!-- small nut & dash -->
  <ellipse class="k" cx="32" cy="582" rx="25" ry="31" transform="rotate(18 32 582)"/>
  <ellipse cx="32" cy="582" rx="8" ry="11" fill="#888" transform="rotate(18 32 582)"/>
  <line class="ax" x1="60" y1="600" x2="100" y2="625"/>
</g>
<g transform="translate(410,530) scale(0.142857)">
  <!-- diag bottom of box -->
  <path class="b" d="M78 38 L78 213 L868 664 M182 165 L182 272 M512 335 L512 460 M800 505 L800 625 M875 550 L875 668 L868 664"/>
  <!-- rod -->
  <path d="M268 166 L625 374" fill="none" stroke="#111" stroke-width="3.3"/>
  <path d="M271 168 L622 372" fill="none" stroke="#fff" stroke-width="0.9"/>
  <path d="M655 392 L750 446" fill="none" stroke="#111" stroke-width="2.4" style="stroke-linecap:butt"/>
  <path d="M662 396 L744 443" fill="none" stroke="#eee" stroke-width="0.6"/>
  <circle class="w" style="stroke-width:1.4" cx="638" cy="382" r="24"/>
  <!-- o-ring -->
  <ellipse cx="812" cy="480" rx="17" ry="27" fill="#fff" stroke="#111" stroke-width="1.7" transform="rotate(22 812 480)"/>
  <line class="ax" x1="765" y1="455" x2="790" y2="468"/>
</g>

<!-- 50_table.svg -->
<!-- table -->
<rect x="165.4" y="677.6" width="537.5" height="81.7" fill="none" stroke="#1c1c1c" stroke-width="1.3"/>
<path d="M272.9 677.6 V759.3" fill="none" stroke="#555" stroke-width="1"/>
<path d="M379.7 677.6 V759.3 M435.3 677.6 V759.3 M515.7 677.6 V759.3" fill="none" stroke="#1c1c1c" stroke-width="1.2"/>
<path d="M599.7 677.6 V759.3" fill="none" stroke="#333" stroke-width="1"/>
<path d="M321.4 685 V757 M281.1 720.7 H373.6" fill="none" stroke="#444" stroke-width="0.9"/>
<path d="M649.6 687.9 V749.7 M603.9 718.7 H695.7" fill="none" stroke="#555" stroke-width="0.9"/>
<path d="M383.9 696.6 H425" fill="none" stroke="#333" stroke-width="0.9"/>
<text x="294.3" y="706.6" font-size="15.5">4</text>
<text x="328" y="706.6" font-size="15.5">Ø10,5</text>
<text x="290.5" y="743" font-size="15.5">10</text>
<text x="329.5" y="744.4" font-size="15.5">Ø14,3</text>
<text x="397.5" y="694.8" font-size="16.5">11</text>
<text x="462" y="694.8" font-size="8.5">13mm</text>
<text x="619" y="707.6" font-size="11.3">9.2</text>
<text x="653" y="709" font-size="11.6">180mm</text>
<text x="616.5" y="741" font-size="17">12</text>
<text x="652.6" y="739" font-size="11.6">350mm</text>
<g transform="translate(160,660) scale(0.142857)">
  <!-- ring icon -->
  <ellipse cx="170" cy="320" rx="50" ry="30" fill="#fff" stroke="#777" stroke-width="1"/>
  <ellipse cx="170" cy="321" rx="28" ry="11" fill="#fff" stroke="#555" stroke-width="1.1"/>
  <ellipse cx="170" cy="322" rx="40" ry="21" fill="none" stroke="#aaa" stroke-width="0.5"/>
  <!-- nut icon -->
  <path d="M100 445 L112 500 C130 520 160 528 190 522 L238 495 L245 440 Z" fill="#fff" stroke="#777" stroke-width="1"/>
  <path d="M150 470 L150 520 M205 468 L208 515 M112 455 L150 470 L205 468 L244 448" fill="none" stroke="#888" stroke-width="0.7"/>
  <ellipse cx="172" cy="442" rx="72" ry="40" fill="#fff" stroke="#777" stroke-width="1"/>
  <ellipse cx="172" cy="444" rx="55" ry="28" fill="none" stroke="#888" stroke-width="0.8"/>
  <ellipse cx="172" cy="448" rx="44" ry="21" fill="none" stroke="#999" stroke-width="0.7"/>
  <ellipse cx="172" cy="452" rx="34" ry="15" fill="none" stroke="#999" stroke-width="0.7"/>
  <!-- cross-section icon -->
  <rect x="466" y="319" width="127" height="68" rx="8" fill="#ddd" stroke="#1a1a1a" stroke-width="1.8"/>
  <rect x="479" y="329" width="41" height="50" rx="9" fill="#fff" stroke="#1a1a1a" stroke-width="1.2"/>
  <rect x="539" y="329" width="42" height="50" rx="9" fill="#fff" stroke="#1a1a1a" stroke-width="1.2"/>
  <path d="M490 388 V528 M566 388 V528" fill="none" stroke="#333" stroke-width="0.9"/>
  <path d="M310 482 H402 M655 482 H745" fill="none" stroke="#333" stroke-width="0.9"/>
  <path class="k" d="M400 464 L488 482 L400 500 Z"/>
  <path class="k" d="M656 464 L568 482 L656 500 Z"/>
</g>
<g transform="translate(375,660) scale(0.142857)">
  <!-- tool 11 -->
  <g fill="#fff" stroke="#8a8a8a" stroke-width="0.9">
    <path d="M125 655 L300 555 L312 570 L135 670 Z"/>
    <path d="M195 520 L195 635 C200 650 235 650 240 635 L240 520 C230 508 205 508 195 520 Z"/>
    <path d="M195 315 L195 490 L210 478 L225 492 L240 480 L240 315 C235 302 200 302 195 315 Z"/>
  </g>
  <path d="M205 318 L205 345 L230 345 L230 318 M218 440 L218 460 M212 462 L230 462" fill="none" stroke="#999" stroke-width="0.7"/>
  <!-- nut icon 13mm -->
  <path class="w" style="stroke-width:1.4" d="M672 365 L668 400 L668 585 C675 600 735 600 745 585 L745 400 L740 365 Z"/>
  <path class="t" style="stroke-width:1" d="M668 510 C680 525 735 525 745 510 M690 520 L690 596 M725 520 L725 596"/>
  <path class="t" d="M680 400 L680 505 M735 400 L735 505"/>
  <ellipse class="k" cx="706" cy="352" rx="38" ry="19"/>
  <ellipse cx="706" cy="354" rx="24" ry="9" fill="#777"/>
</g>
<g transform="translate(490,660) scale(0.142857)">
  <!-- rod icon -->
  <path d="M240 296 L322 344" fill="none" stroke="#111" stroke-width="3"/>
  <path d="M242 297 L320 343" fill="none" stroke="#fff" stroke-width="1"/>
  <path d="M342 356 L460 424" fill="none" stroke="#111" stroke-width="3"/>
  <path d="M344 357 L458 423" fill="none" stroke="#fff" stroke-width="1"/>
  <path d="M490 446 L635 526" fill="none" stroke="#111" stroke-width="2.6"/>
  <path d="M570 491 L630 523" fill="none" stroke="#ccc" stroke-width="0.7"/>
  <path class="k" d="M215 290 C215 272 235 258 258 262 C280 266 292 282 288 300 L270 312 L235 310 Z"/>
  <ellipse cx="232" cy="296" rx="14" ry="17" fill="#fff" stroke="#111" stroke-width="1.2"/>
  <line x1="265" y1="245" x2="265" y2="262" stroke="#555" stroke-width="0.6"/>
  <ellipse class="k" cx="475" cy="435" rx="36" ry="46" transform="rotate(15 475 435)"/>
  <path d="M468 428 L520 456" fill="none" stroke="#fff" stroke-width="0.8"/>
  <circle cx="548" cy="478" r="22" fill="#fff" stroke="#111" stroke-width="1.5"/>
  <ellipse cx="668" cy="545" rx="15" ry="23" fill="#fff" stroke="#111" stroke-width="1.9" transform="rotate(20 668 545)"/>
  <ellipse cx="710" cy="570" rx="15" ry="23" fill="#999" stroke="#111" stroke-width="2.2" transform="rotate(20 710 570)"/>
</g>

</svg>
</body>
</html>
